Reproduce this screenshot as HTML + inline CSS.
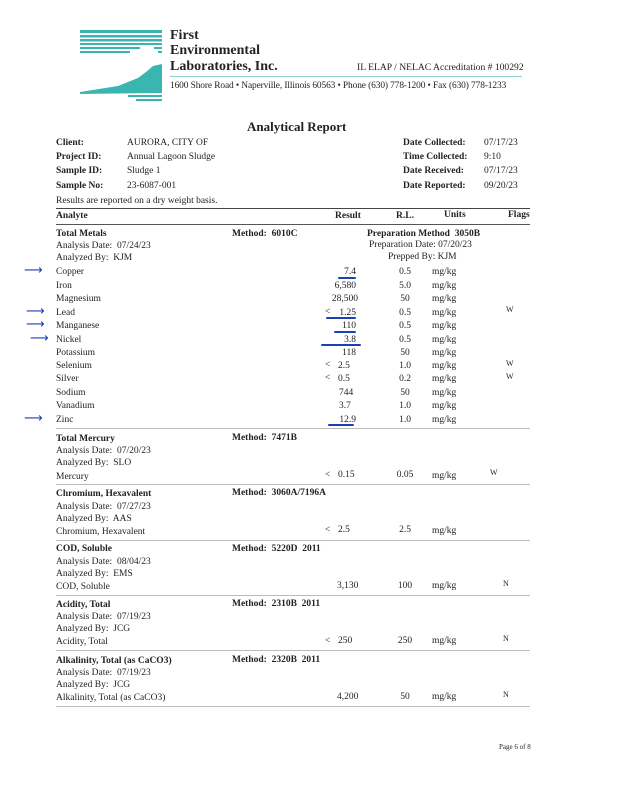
<!DOCTYPE html>
<html><head><meta charset="utf-8"><style>
body{margin:0;background:#fff;}
#p{position:relative;width:618px;height:800px;overflow:hidden;background:#fff;font-family:"Liberation Serif",serif;color:#222;}
.t{position:absolute;white-space:nowrap;font-size:9.5px;line-height:12px;}
.b{font-weight:bold;}
.r{text-align:right;}
.c{text-align:center;}
.l{position:absolute;height:1px;background:#bbb;left:56px;width:474px;}
.u{position:absolute;height:1.5px;background:#1a3fb8;border-radius:1px;}
.a{position:absolute;color:#1a3fb8;font-size:13px;line-height:12px;font-family:"DejaVu Sans",sans-serif;}
</style></head><body><div id="p">
<svg style="position:absolute;left:78px;top:28px" width="90" height="75">
<g fill="#3ab5b0">
<rect x="2" y="2" width="82" height="3"/><rect x="2" y="7" width="82" height="2.5"/><rect x="2" y="11" width="82" height="2.5"/><rect x="2" y="15" width="82" height="2"/><rect x="2" y="19" width="60" height="2"/><rect x="2" y="23" width="50" height="2"/><rect x="76" y="19" width="8" height="2"/><rect x="80" y="23" width="4" height="2"/>
<path d="M2 64 L40 58 L60 50 L68 44 L75 38 L84 36 L84 65 L2 66 Z"/>
<rect x="50" y="67" width="34" height="2"/><rect x="58" y="71" width="26" height="2"/>
</g></svg>
<div class="t b" style="left:170px;top:28px;font-size:14px;line-height:16px">First</div>
<div class="t b" style="left:170px;top:43px;font-size:14px;line-height:16px">Environmental</div>
<div class="t b" style="left:170px;top:59px;font-size:14px;line-height:16px">Laboratories, Inc.</div>
<div style="position:absolute;left:170px;top:76px;width:352px;height:1px;background:#8fd0cc"></div>
<div class="t" style="left:357px;top:62px;font-size:9.6px">IL ELAP / NELAC Accreditation # 100292</div>
<div class="t" style="left:170px;top:80px;font-size:9.4px;letter-spacing:-0.1px">1600 Shore Road • Naperville, Illinois 60563 • Phone (630) 778-1200 • Fax (630) 778-1233</div>
<div class="t b" style="left:247px;top:119px;font-size:13px;line-height:15px">Analytical Report</div>
<div class="t b" style="left:56px;top:137px">Client:</div><div class="t" style="left:127px;top:137px">AURORA, CITY OF</div>
<div class="t b" style="left:56px;top:151px">Project ID:</div><div class="t" style="left:127px;top:151px">Annual Lagoon Sludge</div>
<div class="t b" style="left:56px;top:165px">Sample ID:</div><div class="t" style="left:127px;top:165px">Sludge 1</div>
<div class="t b" style="left:56px;top:180px">Sample No:</div><div class="t" style="left:127px;top:180px">23-6087-001</div>
<div class="t b" style="left:403px;top:137px">Date Collected:</div><div class="t" style="left:484px;top:137px">07/17/23</div>
<div class="t b" style="left:403px;top:151px">Time Collected:</div><div class="t" style="left:484px;top:151px">9:10</div>
<div class="t b" style="left:403px;top:165px">Date Received:</div><div class="t" style="left:484px;top:165px">07/17/23</div>
<div class="t b" style="left:403px;top:180px">Date Reported:</div><div class="t" style="left:484px;top:180px">09/20/23</div>
<div class="t" style="left:56px;top:195px">Results are reported on a dry weight basis.</div>
<div class="l" style="top:208px;background:#444;height:1.3px"></div>
<div class="t b" style="left:56px;top:210px">Analyte</div>
<div class="t b" style="left:335px;top:210px">Result</div>
<div class="t b" style="left:396px;top:210px">R.L.</div>
<div class="t b" style="left:444px;top:209px">Units</div>
<div class="t b" style="left:508px;top:209px">Flags</div>
<div class="l" style="top:224px;background:#555"></div>
<div class="t b" style="left:56px;top:228px">Total Metals</div>
<div class="t" style="left:56px;top:240px">Analysis Date:&nbsp; 07/24/23</div>
<div class="t" style="left:56px;top:252px">Analyzed By:&nbsp; KJM</div>
<div class="t b" style="left:232px;top:228px">Method:&nbsp; 6010C</div>
<div class="t b" style="left:367px;top:228px">Preparation Method&nbsp; 3050B</div>
<div class="t" style="left:369px;top:239px">Preparation Date: 07/20/23</div>
<div class="t" style="left:388px;top:251px">Prepped By: KJM</div>

<div class="t" style="left:56px;top:266px">Copper</div><div class="t r" style="left:300px;width:56px;top:266px">7.4</div><div class="t c" style="left:385px;width:40px;top:266px">0.5</div><div class="t" style="left:432px;top:266px">mg/kg</div>
<div class="t" style="left:56px;top:280px">Iron</div><div class="t r" style="left:300px;width:56px;top:280px">6,580</div><div class="t c" style="left:385px;width:40px;top:280px">5.0</div><div class="t" style="left:432px;top:280px">mg/kg</div>
<div class="t" style="left:56px;top:293px">Magnesium</div><div class="t r" style="left:300px;width:58px;top:293px">28,500</div><div class="t c" style="left:385px;width:40px;top:293px">50</div><div class="t" style="left:432px;top:293px">mg/kg</div>
<div class="t" style="left:56px;top:307px">Lead</div><div class="t" style="left:325px;top:306px">&lt;</div><div class="t r" style="left:300px;width:56px;top:307px">1.25</div><div class="t c" style="left:385px;width:40px;top:307px">0.5</div><div class="t" style="left:432px;top:307px">mg/kg</div><div class="t" style="left:506px;top:304px;font-size:8px">W</div>
<div class="t" style="left:56px;top:320px">Manganese</div><div class="t r" style="left:300px;width:56px;top:320px">110</div><div class="t c" style="left:385px;width:40px;top:320px">0.5</div><div class="t" style="left:432px;top:320px">mg/kg</div>
<div class="t" style="left:56px;top:334px">Nickel</div><div class="t r" style="left:300px;width:56px;top:334px">3.8</div><div class="t c" style="left:385px;width:40px;top:334px">0.5</div><div class="t" style="left:432px;top:334px">mg/kg</div>
<div class="t" style="left:56px;top:347px">Potassium</div><div class="t r" style="left:300px;width:56px;top:347px">118</div><div class="t c" style="left:385px;width:40px;top:347px">50</div><div class="t" style="left:432px;top:347px">mg/kg</div>
<div class="t" style="left:56px;top:360px">Selenium</div><div class="t" style="left:325px;top:359px">&lt;</div><div class="t" style="left:338px;top:360px">2.5</div><div class="t c" style="left:385px;width:40px;top:360px">1.0</div><div class="t" style="left:432px;top:360px">mg/kg</div><div class="t" style="left:506px;top:358px;font-size:8px">W</div>
<div class="t" style="left:56px;top:373px">Silver</div><div class="t" style="left:325px;top:372px">&lt;</div><div class="t" style="left:338px;top:373px">0.5</div><div class="t c" style="left:385px;width:40px;top:373px">0.2</div><div class="t" style="left:432px;top:373px">mg/kg</div><div class="t" style="left:506px;top:371px;font-size:8px">W</div>
<div class="t" style="left:56px;top:387px">Sodium</div><div class="t" style="left:339px;top:387px">744</div><div class="t c" style="left:385px;width:40px;top:387px">50</div><div class="t" style="left:432px;top:387px">mg/kg</div>
<div class="t" style="left:56px;top:400px">Vanadium</div><div class="t" style="left:339px;top:400px">3.7</div><div class="t c" style="left:385px;width:40px;top:400px">1.0</div><div class="t" style="left:432px;top:400px">mg/kg</div>
<div class="t" style="left:56px;top:414px">Zinc</div><div class="t r" style="left:300px;width:56px;top:414px">12.9</div><div class="t c" style="left:385px;width:40px;top:414px">1.0</div><div class="t" style="left:432px;top:414px">mg/kg</div>
<div class="l" style="top:428px"></div>

<div class="u" style="left:338px;top:277px;width:18px"></div>
<div class="u" style="left:326px;top:317px;width:30px"></div>
<div class="u" style="left:334px;top:331px;width:22px"></div>
<div class="u" style="left:321px;top:344px;width:40px"></div>
<div class="u" style="left:328px;top:424px;width:26px"></div>
<div class="a" style="left:24px;top:265px">⟶</div>
<div class="a" style="left:26px;top:306px">⟶</div>
<div class="a" style="left:26px;top:319px">⟶</div>
<div class="a" style="left:30px;top:333px">⟶</div>
<div class="a" style="left:24px;top:413px">⟶</div>

<div class="t b" style="left:56px;top:433px">Total Mercury</div><div class="t b" style="left:232px;top:432px">Method:&nbsp; 7471B</div>
<div class="t" style="left:56px;top:445px">Analysis Date:&nbsp; 07/20/23</div>
<div class="t" style="left:56px;top:457px">Analyzed By:&nbsp; SLO</div>
<div class="t" style="left:56px;top:471px">Mercury</div><div class="t" style="left:325px;top:469px">&lt;</div><div class="t" style="left:338px;top:469px">0.15</div><div class="t c" style="left:385px;width:40px;top:469px">0.05</div><div class="t" style="left:432px;top:470px">mg/kg</div><div class="t" style="left:490px;top:467px;font-size:8px">W</div>
<div class="l" style="top:484px"></div>

<div class="t b" style="left:56px;top:488px">Chromium, Hexavalent</div><div class="t b" style="left:232px;top:487px">Method:&nbsp; 3060A/7196A</div>
<div class="t" style="left:56px;top:501px">Analysis Date:&nbsp; 07/27/23</div>
<div class="t" style="left:56px;top:513px">Analyzed By:&nbsp; AAS</div>
<div class="t" style="left:56px;top:526px">Chromium, Hexavalent</div><div class="t" style="left:325px;top:524px">&lt;</div><div class="t" style="left:338px;top:524px">2.5</div><div class="t c" style="left:385px;width:40px;top:524px">2.5</div><div class="t" style="left:432px;top:525px">mg/kg</div>
<div class="l" style="top:540px"></div>

<div class="t b" style="left:56px;top:543px">COD, Soluble</div><div class="t b" style="left:232px;top:543px">Method:&nbsp; 5220D&nbsp; 2011</div>
<div class="t" style="left:56px;top:556px">Analysis Date:&nbsp; 08/04/23</div>
<div class="t" style="left:56px;top:568px">Analyzed By:&nbsp; EMS</div>
<div class="t" style="left:56px;top:581px">COD, Soluble</div><div class="t" style="left:337px;top:580px">3,130</div><div class="t c" style="left:385px;width:40px;top:580px">100</div><div class="t" style="left:432px;top:580px">mg/kg</div><div class="t" style="left:503px;top:578px;font-size:8px">N</div>
<div class="l" style="top:595px"></div>

<div class="t b" style="left:56px;top:599px">Acidity, Total</div><div class="t b" style="left:232px;top:598px">Method:&nbsp; 2310B&nbsp; 2011</div>
<div class="t" style="left:56px;top:611px">Analysis Date:&nbsp; 07/19/23</div>
<div class="t" style="left:56px;top:623px">Analyzed By:&nbsp; JCG</div>
<div class="t" style="left:56px;top:636px">Acidity, Total</div><div class="t" style="left:325px;top:635px">&lt;</div><div class="t" style="left:338px;top:635px">250</div><div class="t c" style="left:385px;width:40px;top:635px">250</div><div class="t" style="left:432px;top:635px">mg/kg</div><div class="t" style="left:503px;top:633px;font-size:8px">N</div>
<div class="l" style="top:650px"></div>

<div class="t b" style="left:56px;top:655px">Alkalinity, Total (as CaCO3)</div><div class="t b" style="left:232px;top:654px">Method:&nbsp; 2320B&nbsp; 2011</div>
<div class="t" style="left:56px;top:667px">Analysis Date:&nbsp; 07/19/23</div>
<div class="t" style="left:56px;top:679px">Analyzed By:&nbsp; JCG</div>
<div class="t" style="left:56px;top:692px">Alkalinity, Total (as CaCO3)</div><div class="t" style="left:337px;top:691px">4,200</div><div class="t c" style="left:385px;width:40px;top:691px">50</div><div class="t" style="left:432px;top:691px">mg/kg</div><div class="t" style="left:503px;top:689px;font-size:8px">N</div>
<div class="l" style="top:706px"></div>

<div class="t" style="left:499px;top:741px;font-size:7px">Page 6 of 8</div>
</div></body></html>
